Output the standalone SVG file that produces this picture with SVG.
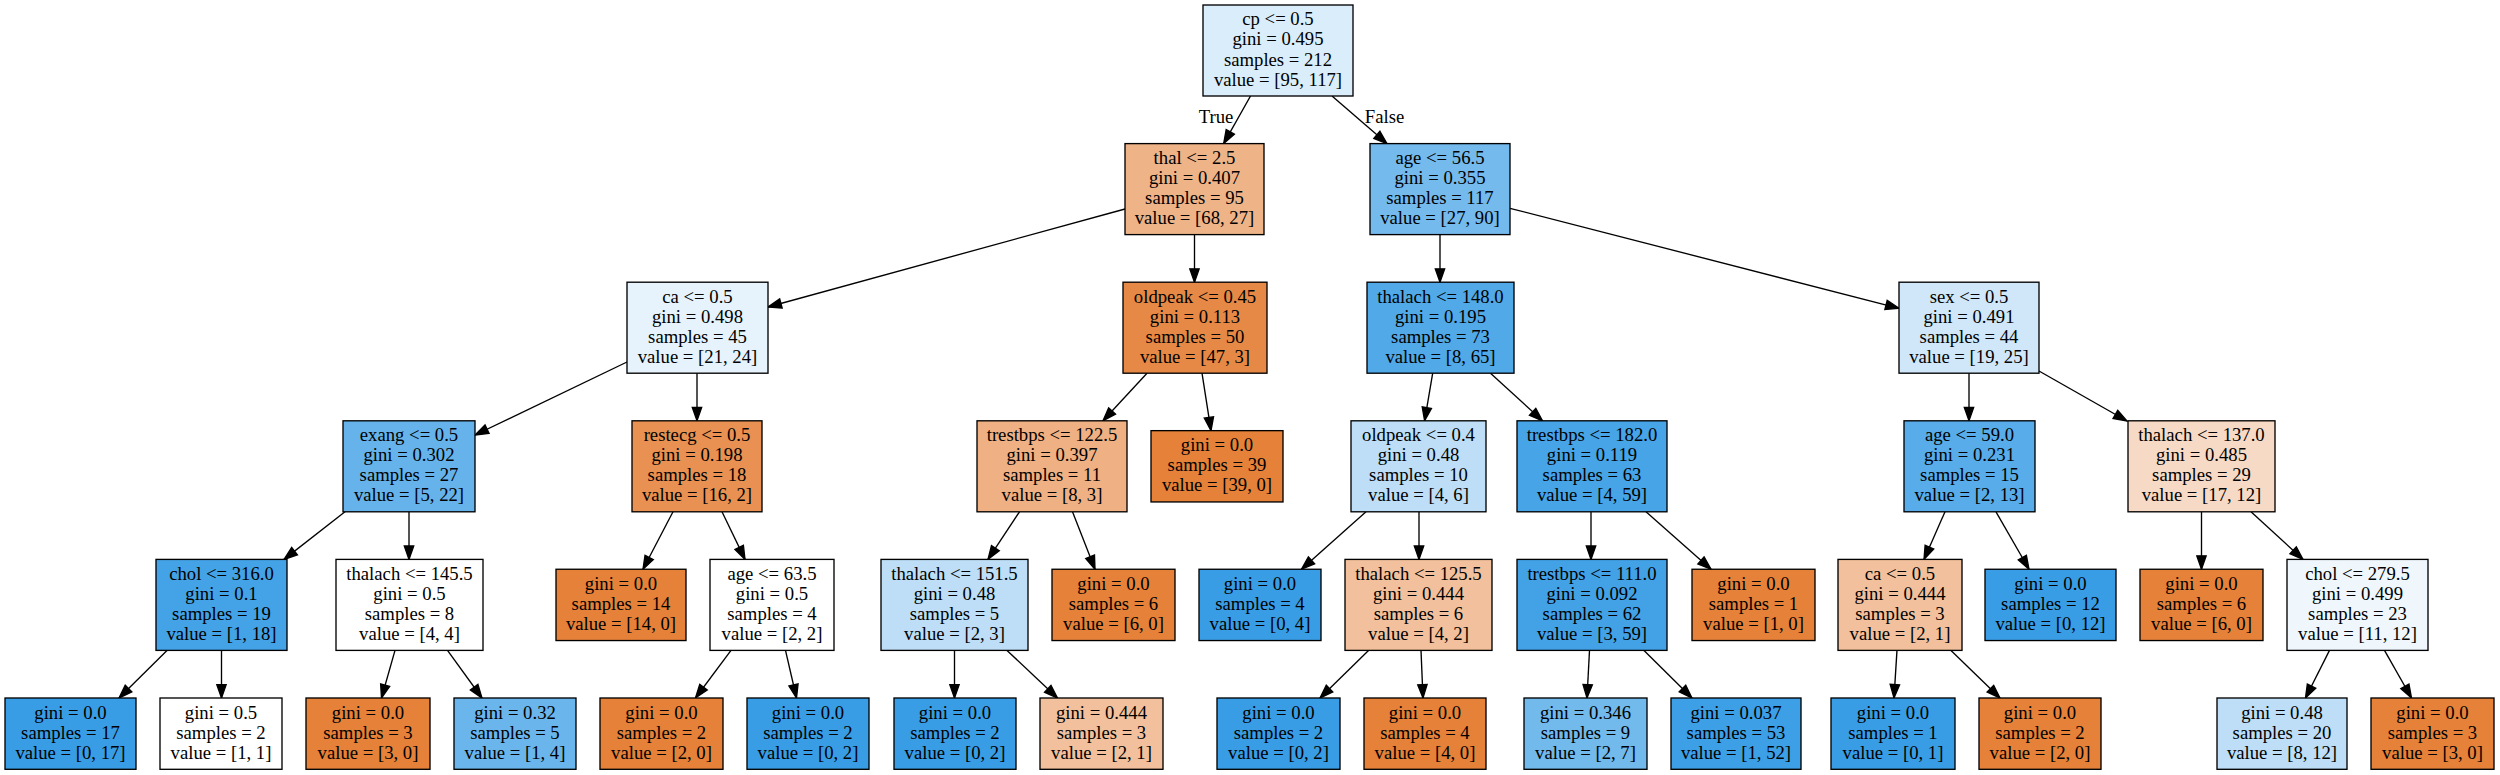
<svg xmlns="http://www.w3.org/2000/svg" width="2500" height="775" viewBox="0 0 2500 775">
<style>
.n rect{stroke:#000;stroke-width:1.34}
text{font-family:"Liberation Serif","Times New Roman",serif;font-size:18.7px;text-anchor:middle;fill:#000}
#edges line{stroke:#000;stroke-width:1.34;marker-end:url(#arr)}
</style>
<defs>
<marker id="arr" markerUnits="userSpaceOnUse" markerWidth="18" markerHeight="14" refX="13.4" refY="5.4" orient="auto" overflow="visible">
<path d="M0,0.7 L13.4,5.4 L0,10.1 z" fill="#000" stroke="#000" stroke-width="1.34"/>
</marker>
</defs>
<rect x="0" y="0" width="2500" height="775" fill="#fff"/>
<g id="edges">
<line x1="1250.5" y1="96" x2="1223.7" y2="143.6"/>
<line x1="1332" y1="96" x2="1387" y2="143.6"/>
<line x1="1125" y1="209" x2="768" y2="307"/>
<line x1="1194.5" y1="234.6" x2="1194.5" y2="282.2"/>
<line x1="1440" y1="234.6" x2="1440" y2="282.2"/>
<line x1="1510" y1="208.3" x2="1899" y2="308.3"/>
<line x1="627" y1="362" x2="475" y2="435"/>
<line x1="697" y1="373.2" x2="697" y2="420.8"/>
<line x1="1147" y1="373.2" x2="1103" y2="420.8"/>
<line x1="1202" y1="373.2" x2="1211" y2="430.65"/>
<line x1="1432.7" y1="373.2" x2="1424.6" y2="420.8"/>
<line x1="1490.5" y1="373.2" x2="1542.5" y2="420.8"/>
<line x1="1969" y1="373.2" x2="1969" y2="420.8"/>
<line x1="2039" y1="371" x2="2127" y2="421"/>
<line x1="345" y1="511.8" x2="284" y2="559.4"/>
<line x1="409" y1="511.8" x2="409" y2="559.4"/>
<line x1="673" y1="511.8" x2="643" y2="569.25"/>
<line x1="722" y1="511.8" x2="745" y2="559.4"/>
<line x1="1019.5" y1="511.8" x2="988" y2="559.4"/>
<line x1="1072.5" y1="511.8" x2="1095" y2="569.25"/>
<line x1="1366" y1="511.8" x2="1301.5" y2="569.25"/>
<line x1="1419" y1="511.8" x2="1419" y2="559.4"/>
<line x1="1591" y1="511.8" x2="1591" y2="559.4"/>
<line x1="1646" y1="511.8" x2="1711" y2="569.25"/>
<line x1="1945" y1="511.8" x2="1924" y2="559.4"/>
<line x1="1996" y1="511.8" x2="2029" y2="569.25"/>
<line x1="2201.5" y1="511.8" x2="2201.5" y2="569.25"/>
<line x1="2251" y1="511.8" x2="2303" y2="559.4"/>
<line x1="167" y1="650.4" x2="119" y2="698"/>
<line x1="221.5" y1="650.4" x2="221.5" y2="698"/>
<line x1="395" y1="650.4" x2="381.5" y2="698"/>
<line x1="447.5" y1="650.4" x2="482" y2="698"/>
<line x1="731" y1="650.4" x2="695.5" y2="698"/>
<line x1="785.5" y1="650.4" x2="796.5" y2="698"/>
<line x1="954.5" y1="650.4" x2="954.5" y2="698"/>
<line x1="1007" y1="650.4" x2="1057.5" y2="698"/>
<line x1="1368.5" y1="650.4" x2="1320" y2="698"/>
<line x1="1421" y1="650.4" x2="1423" y2="698"/>
<line x1="1589.5" y1="650.4" x2="1587" y2="698"/>
<line x1="1644" y1="650.4" x2="1692" y2="698"/>
<line x1="1897" y1="650.4" x2="1894" y2="698"/>
<line x1="1951" y1="650.4" x2="2000" y2="698"/>
<line x1="2329.5" y1="650.4" x2="2305.5" y2="698"/>
<line x1="2384.5" y1="650.4" x2="2411.5" y2="698"/>
<text x="1216" y="123">True</text>
<text x="1384.5" y="123">False</text>
</g>
<g id="n0" class="n"><rect x="1203" y="5" width="150" height="91" fill="#daedfa"/><text x="1278" y="25.3">cp &lt;= 0.5</text><text x="1278" y="45.4">gini = 0.495</text><text x="1278" y="65.5">samples = 212</text><text x="1278" y="85.6">value = [95, 117]</text></g>
<g id="n1" class="n"><rect x="1125" y="143.6" width="139" height="91" fill="#efb388"/><text x="1194.5" y="163.9">thal &lt;= 2.5</text><text x="1194.5" y="184">gini = 0.407</text><text x="1194.5" y="204.1">samples = 95</text><text x="1194.5" y="224.2">value = [68, 27]</text></g>
<g id="n2" class="n"><rect x="1370" y="143.6" width="140" height="91" fill="#74baed"/><text x="1440" y="163.9">age &lt;= 56.5</text><text x="1440" y="184">gini = 0.355</text><text x="1440" y="204.1">samples = 117</text><text x="1440" y="224.2">value = [27, 90]</text></g>
<g id="n3" class="n"><rect x="627" y="282.2" width="141" height="91" fill="#e6f3fc"/><text x="697.5" y="302.5">ca &lt;= 0.5</text><text x="697.5" y="322.6">gini = 0.498</text><text x="697.5" y="342.7">samples = 45</text><text x="697.5" y="362.8">value = [21, 24]</text></g>
<g id="n4" class="n"><rect x="1123" y="282.2" width="144" height="91" fill="#e78946"/><text x="1195" y="302.5">oldpeak &lt;= 0.45</text><text x="1195" y="322.6">gini = 0.113</text><text x="1195" y="342.7">samples = 50</text><text x="1195" y="362.8">value = [47, 3]</text></g>
<g id="n5" class="n"><rect x="1367" y="282.2" width="147" height="91" fill="#51a9e8"/><text x="1440.5" y="302.5">thalach &lt;= 148.0</text><text x="1440.5" y="322.6">gini = 0.195</text><text x="1440.5" y="342.7">samples = 73</text><text x="1440.5" y="362.8">value = [8, 65]</text></g>
<g id="n6" class="n"><rect x="1899" y="282.2" width="140" height="91" fill="#cfe7f9"/><text x="1969" y="302.5">sex &lt;= 0.5</text><text x="1969" y="322.6">gini = 0.491</text><text x="1969" y="342.7">samples = 44</text><text x="1969" y="362.8">value = [19, 25]</text></g>
<g id="n7" class="n"><rect x="343" y="420.8" width="132" height="91" fill="#66b3eb"/><text x="409" y="441.1">exang &lt;= 0.5</text><text x="409" y="461.2">gini = 0.302</text><text x="409" y="481.3">samples = 27</text><text x="409" y="501.4">value = [5, 22]</text></g>
<g id="n8" class="n"><rect x="632" y="420.8" width="130" height="91" fill="#e89152"/><text x="697" y="441.1">restecg &lt;= 0.5</text><text x="697" y="461.2">gini = 0.198</text><text x="697" y="481.3">samples = 18</text><text x="697" y="501.4">value = [16, 2]</text></g>
<g id="n9" class="n"><rect x="977" y="420.8" width="150" height="91" fill="#efb083"/><text x="1052" y="441.1">trestbps &lt;= 122.5</text><text x="1052" y="461.2">gini = 0.397</text><text x="1052" y="481.3">samples = 11</text><text x="1052" y="501.4">value = [8, 3]</text></g>
<g id="n10" class="n"><rect x="1151" y="430.65" width="132" height="71.3" fill="#e58139"/><text x="1217" y="451.2">gini = 0.0</text><text x="1217" y="471.3">samples = 39</text><text x="1217" y="491.3">value = [39, 0]</text></g>
<g id="n11" class="n"><rect x="1351" y="420.8" width="135" height="91" fill="#bddef6"/><text x="1418.5" y="441.1">oldpeak &lt;= 0.4</text><text x="1418.5" y="461.2">gini = 0.48</text><text x="1418.5" y="481.3">samples = 10</text><text x="1418.5" y="501.4">value = [4, 6]</text></g>
<g id="n12" class="n"><rect x="1517" y="420.8" width="150" height="91" fill="#46a4e7"/><text x="1592" y="441.1">trestbps &lt;= 182.0</text><text x="1592" y="461.2">gini = 0.119</text><text x="1592" y="481.3">samples = 63</text><text x="1592" y="501.4">value = [4, 59]</text></g>
<g id="n13" class="n"><rect x="1904" y="420.8" width="131" height="91" fill="#57ace9"/><text x="1969.5" y="441.1">age &lt;= 59.0</text><text x="1969.5" y="461.2">gini = 0.231</text><text x="1969.5" y="481.3">samples = 15</text><text x="1969.5" y="501.4">value = [2, 13]</text></g>
<g id="n14" class="n"><rect x="2128" y="420.8" width="147" height="91" fill="#f7dac5"/><text x="2201.5" y="441.1">thalach &lt;= 137.0</text><text x="2201.5" y="461.2">gini = 0.485</text><text x="2201.5" y="481.3">samples = 29</text><text x="2201.5" y="501.4">value = [17, 12]</text></g>
<g id="n15" class="n"><rect x="156" y="559.4" width="131" height="91" fill="#44a2e6"/><text x="221.5" y="579.7">chol &lt;= 316.0</text><text x="221.5" y="599.8">gini = 0.1</text><text x="221.5" y="619.9">samples = 19</text><text x="221.5" y="640">value = [1, 18]</text></g>
<g id="n16" class="n"><rect x="336" y="559.4" width="147" height="91" fill="#ffffff"/><text x="409.5" y="579.7">thalach &lt;= 145.5</text><text x="409.5" y="599.8">gini = 0.5</text><text x="409.5" y="619.9">samples = 8</text><text x="409.5" y="640">value = [4, 4]</text></g>
<g id="n17" class="n"><rect x="556" y="569.25" width="130" height="71.3" fill="#e58139"/><text x="621" y="589.8">gini = 0.0</text><text x="621" y="609.9">samples = 14</text><text x="621" y="629.9">value = [14, 0]</text></g>
<g id="n18" class="n"><rect x="710" y="559.4" width="124" height="91" fill="#ffffff"/><text x="772" y="579.7">age &lt;= 63.5</text><text x="772" y="599.8">gini = 0.5</text><text x="772" y="619.9">samples = 4</text><text x="772" y="640">value = [2, 2]</text></g>
<g id="n19" class="n"><rect x="881" y="559.4" width="147" height="91" fill="#bddef6"/><text x="954.5" y="579.7">thalach &lt;= 151.5</text><text x="954.5" y="599.8">gini = 0.48</text><text x="954.5" y="619.9">samples = 5</text><text x="954.5" y="640">value = [2, 3]</text></g>
<g id="n20" class="n"><rect x="1052" y="569.25" width="123" height="71.3" fill="#e58139"/><text x="1113.5" y="589.8">gini = 0.0</text><text x="1113.5" y="609.9">samples = 6</text><text x="1113.5" y="629.9">value = [6, 0]</text></g>
<g id="n21" class="n"><rect x="1199" y="569.25" width="122" height="71.3" fill="#399de5"/><text x="1260" y="589.8">gini = 0.0</text><text x="1260" y="609.9">samples = 4</text><text x="1260" y="629.9">value = [0, 4]</text></g>
<g id="n22" class="n"><rect x="1345" y="559.4" width="147" height="91" fill="#f2c09c"/><text x="1418.5" y="579.7">thalach &lt;= 125.5</text><text x="1418.5" y="599.8">gini = 0.444</text><text x="1418.5" y="619.9">samples = 6</text><text x="1418.5" y="640">value = [4, 2]</text></g>
<g id="n23" class="n"><rect x="1517" y="559.4" width="150" height="91" fill="#43a2e6"/><text x="1592" y="579.7">trestbps &lt;= 111.0</text><text x="1592" y="599.8">gini = 0.092</text><text x="1592" y="619.9">samples = 62</text><text x="1592" y="640">value = [3, 59]</text></g>
<g id="n24" class="n"><rect x="1692" y="569.25" width="123" height="71.3" fill="#e58139"/><text x="1753.5" y="589.8">gini = 0.0</text><text x="1753.5" y="609.9">samples = 1</text><text x="1753.5" y="629.9">value = [1, 0]</text></g>
<g id="n25" class="n"><rect x="1838" y="559.4" width="124" height="91" fill="#f2c09c"/><text x="1900" y="579.7">ca &lt;= 0.5</text><text x="1900" y="599.8">gini = 0.444</text><text x="1900" y="619.9">samples = 3</text><text x="1900" y="640">value = [2, 1]</text></g>
<g id="n26" class="n"><rect x="1985" y="569.25" width="131" height="71.3" fill="#399de5"/><text x="2050.5" y="589.8">gini = 0.0</text><text x="2050.5" y="609.9">samples = 12</text><text x="2050.5" y="629.9">value = [0, 12]</text></g>
<g id="n27" class="n"><rect x="2140" y="569.25" width="123" height="71.3" fill="#e58139"/><text x="2201.5" y="589.8">gini = 0.0</text><text x="2201.5" y="609.9">samples = 6</text><text x="2201.5" y="629.9">value = [6, 0]</text></g>
<g id="n28" class="n"><rect x="2287" y="559.4" width="141" height="91" fill="#eff7fd"/><text x="2357.5" y="579.7">chol &lt;= 279.5</text><text x="2357.5" y="599.8">gini = 0.499</text><text x="2357.5" y="619.9">samples = 23</text><text x="2357.5" y="640">value = [11, 12]</text></g>
<g id="n29" class="n"><rect x="5" y="698" width="131" height="71.3" fill="#399de5"/><text x="70.5" y="718.55">gini = 0.0</text><text x="70.5" y="738.65">samples = 17</text><text x="70.5" y="758.65">value = [0, 17]</text></g>
<g id="n30" class="n"><rect x="160" y="698" width="122" height="71.3" fill="#ffffff"/><text x="221" y="718.55">gini = 0.5</text><text x="221" y="738.65">samples = 2</text><text x="221" y="758.65">value = [1, 1]</text></g>
<g id="n31" class="n"><rect x="306" y="698" width="124" height="71.3" fill="#e58139"/><text x="368" y="718.55">gini = 0.0</text><text x="368" y="738.65">samples = 3</text><text x="368" y="758.65">value = [3, 0]</text></g>
<g id="n32" class="n"><rect x="454" y="698" width="122" height="71.3" fill="#6ab6ec"/><text x="515" y="718.55">gini = 0.32</text><text x="515" y="738.65">samples = 5</text><text x="515" y="758.65">value = [1, 4]</text></g>
<g id="n33" class="n"><rect x="600" y="698" width="123" height="71.3" fill="#e58139"/><text x="661.5" y="718.55">gini = 0.0</text><text x="661.5" y="738.65">samples = 2</text><text x="661.5" y="758.65">value = [2, 0]</text></g>
<g id="n34" class="n"><rect x="747" y="698" width="122" height="71.3" fill="#399de5"/><text x="808" y="718.55">gini = 0.0</text><text x="808" y="738.65">samples = 2</text><text x="808" y="758.65">value = [0, 2]</text></g>
<g id="n35" class="n"><rect x="894" y="698" width="122" height="71.3" fill="#399de5"/><text x="955" y="718.55">gini = 0.0</text><text x="955" y="738.65">samples = 2</text><text x="955" y="758.65">value = [0, 2]</text></g>
<g id="n36" class="n"><rect x="1040" y="698" width="123" height="71.3" fill="#f2c09c"/><text x="1101.5" y="718.55">gini = 0.444</text><text x="1101.5" y="738.65">samples = 3</text><text x="1101.5" y="758.65">value = [2, 1]</text></g>
<g id="n37" class="n"><rect x="1217" y="698" width="123" height="71.3" fill="#399de5"/><text x="1278.5" y="718.55">gini = 0.0</text><text x="1278.5" y="738.65">samples = 2</text><text x="1278.5" y="758.65">value = [0, 2]</text></g>
<g id="n38" class="n"><rect x="1364" y="698" width="122" height="71.3" fill="#e58139"/><text x="1425" y="718.55">gini = 0.0</text><text x="1425" y="738.65">samples = 4</text><text x="1425" y="758.65">value = [4, 0]</text></g>
<g id="n39" class="n"><rect x="1524" y="698" width="123" height="71.3" fill="#72b9ec"/><text x="1585.5" y="718.55">gini = 0.346</text><text x="1585.5" y="738.65">samples = 9</text><text x="1585.5" y="758.65">value = [2, 7]</text></g>
<g id="n40" class="n"><rect x="1671" y="698" width="130" height="71.3" fill="#3d9fe5"/><text x="1736" y="718.55">gini = 0.037</text><text x="1736" y="738.65">samples = 53</text><text x="1736" y="758.65">value = [1, 52]</text></g>
<g id="n41" class="n"><rect x="1831" y="698" width="124" height="71.3" fill="#399de5"/><text x="1893" y="718.55">gini = 0.0</text><text x="1893" y="738.65">samples = 1</text><text x="1893" y="758.65">value = [0, 1]</text></g>
<g id="n42" class="n"><rect x="1979" y="698" width="122" height="71.3" fill="#e58139"/><text x="2040" y="718.55">gini = 0.0</text><text x="2040" y="738.65">samples = 2</text><text x="2040" y="758.65">value = [2, 0]</text></g>
<g id="n43" class="n"><rect x="2217" y="698" width="130" height="71.3" fill="#bddef6"/><text x="2282" y="718.55">gini = 0.48</text><text x="2282" y="738.65">samples = 20</text><text x="2282" y="758.65">value = [8, 12]</text></g>
<g id="n44" class="n"><rect x="2371" y="698" width="123" height="71.3" fill="#e58139"/><text x="2432.5" y="718.55">gini = 0.0</text><text x="2432.5" y="738.65">samples = 3</text><text x="2432.5" y="758.65">value = [3, 0]</text></g>
</svg>
